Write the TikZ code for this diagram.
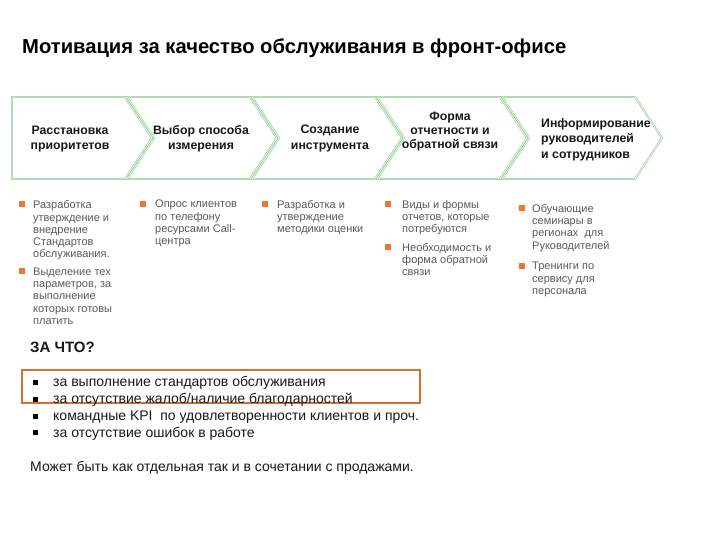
\documentclass[tikz,border=0pt]{standalone}
\usepackage{fontspec}
\setmainfont{Liberation Sans}
\definecolor{chev}{RGB}{135,200,135}
\definecolor{orng}{RGB}{232,120,50}
\definecolor{boxor}{RGB}{214,112,50}
\definecolor{gtxt}{RGB}{90,90,90}
\definecolor{dtxt}{RGB}{25,25,25}
\begin{document}
\begin{tikzpicture}[x=1pt,y=-1pt,
  chevst/.style={draw=chev,line width=0.6pt,double=white,double distance=0.7pt,fill=white},
  chevtxt/.style={font=\bfseries\fontsize{12.3}{15.5}\selectfont,text=dtxt,align=center,inner sep=0pt},
  bul/.style={fill=orng,minimum size=6.5pt,inner sep=0pt},
  btxt/.style={font=\fontsize{11}{12.3}\selectfont,text=gtxt,align=left,anchor=north west,inner sep=0pt},
  lbul/.style={fill=black,minimum size=5pt,inner sep=0pt},
  ltxt/.style={font=\fontsize{14}{16}\selectfont,text=dtxt,anchor=base west,inner sep=0pt}]
\useasboundingbox (0,0) rectangle (720,540);
\fill[white] (0,0) rectangle (720,540);
% title
\node[anchor=west,inner sep=0pt,font=\bfseries\fontsize{20.2}{23}\selectfont,text=black] (title) at (22,48.5) {Мотивация за качество обслуживания в фронт-офисе};
% chevrons
\draw[chevst] (12,97) -- (125,97) -- (152,138) -- (125,179) -- (12,179) -- cycle;
\draw[chevst] (127,97) -- (250,97) -- (277,138) -- (250,179) -- (127,179) -- (154,138) -- cycle;
\draw[chevst] (252,97) -- (375,97) -- (402,138) -- (375,179) -- (252,179) -- (279,138) -- cycle;
\draw[chevst] (377,97) -- (500,97) -- (527,138) -- (500,179) -- (377,179) -- (404,138) -- cycle;
\draw[chevst] (502,97) -- (635,97) -- (662,138) -- (635,179) -- (502,179) -- (529,138) -- cycle;
\node[chevtxt] (c1) at (70,139) {Расстановка\\приоритетов};
\node[chevtxt] (c2) at (201,139) {Выбор способа\\измерения};
\node[chevtxt] (c3) at (330,138.5) {Создание\\инструмента};
\node[chevtxt,font=\bfseries\fontsize{12.3}{14}\selectfont] (c4) at (450,132) {Форма\\отчетности и\\обратной связи};
\node[chevtxt,align=left,anchor=west] (c5) at (541,139.5) {Информирование\\руководителей\\и сотрудников};
% bullets
\node[bul] (b1) at (22,204) {};
\node[bul] (b2) at (22,271) {};
\node[bul] (b3) at (143,204) {};
\node[bul] (b4) at (265,204) {};
\node[bul] (b5) at (388,204) {};
\node[bul] (b6) at (388,247) {};
\node[bul] (b7) at (522,208) {};
\node[bul] (b8) at (522,266) {};
\node[btxt] (t1) at (33,200.5) {Разработка\\утверждение и\\внедрение\\Стандартов\\обслуживания.};
\node[btxt] (t2) at (33,267.5) {Выделение тех\\параметров, за\\выполнение\\которых готовы\\платить};
\node[btxt] (t3) at (155,200) {Опрос клиентов\\по телефону\\ресурсами Call-\\центра};
\node[btxt] (t4) at (277,200) {Разработка и\\утверждение\\методики оценки};
\node[btxt] (t5) at (402,200) {Виды и формы\\отчетов, которые\\потребуются};
\node[btxt] (t6) at (402,243) {Необходимость и\\форма обратной\\связи};
\node[btxt] (t7) at (532,204) {Обучающие\\семинары в\\регионах~ для\\Руководителей};
\node[btxt] (t8) at (532,262) {Тренинги по\\сервису для\\персонала};
% lower part
\node[anchor=base west,inner sep=0pt,font=\bfseries\fontsize{15}{17}\selectfont,text=dtxt] (q) at (30,352.5) {ЗА ЧТО?};
\node[draw=boxor,line width=1.8pt,minimum width=398pt,minimum height=33pt,inner sep=0pt] (hl) at (221,386.5) {};
\node[lbul] (l1) at (35,382) {};
\node[lbul] (l2) at (35,399) {};
\node[lbul] (l3) at (35,416) {};
\node[lbul] (l4) at (35,432.5) {};
\node[ltxt] (s1) at (53,386.5) {за выполнение стандартов обслуживания};
\node[ltxt] (s2) at (53,403.5) {за отсутствие жалоб/наличие благодарностей};
\node[ltxt] (s3) at (53,420.5) {командные KPI~ по удовлетворенности клиентов и проч.};
\node[ltxt] (s4) at (53,437) {за отсутствие ошибок в работе};
\node[ltxt] (m) at (30,471) {Может быть как отдельная так и в сочетании с продажами.};
\end{tikzpicture}
\end{document}
